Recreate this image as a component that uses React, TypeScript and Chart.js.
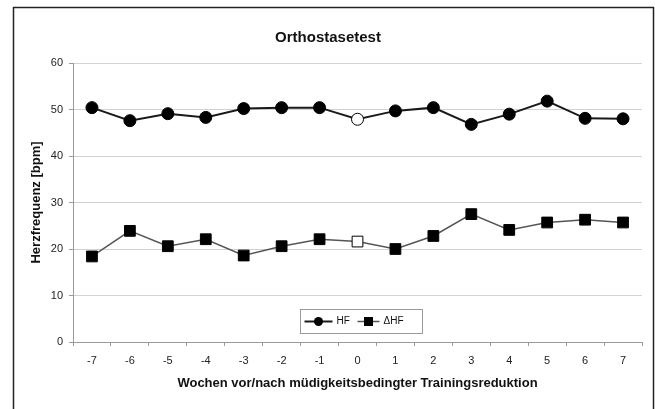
import React, { useEffect, useRef } from "react";
import { Chart, registerables } from "chart.js";

Chart.register(...registerables);

const weeks = ["-7", "-6", "-5", "-4", "-3", "-2", "-1", "0", "1", "2", "3", "4", "5", "6", "7"];
const hfValues = [50.4, 47.6, 49.1, 48.3, 50.2, 50.4, 50.4, 47.9, 49.7, 50.4, 46.8, 49.0, 51.8, 48.1, 48.0];
const dhfValues = [18.4, 23.9, 20.6, 22.1, 18.6, 20.6, 22.1, 21.6, 20.0, 22.8, 27.5, 24.1, 25.7, 26.3, 25.7];
const highlightIndex = 7;
const titleText = "Orthostasetest";
const xTitle = "Wochen vor/nach müdigkeitsbedingter Trainingsreduktion";
const yTitle = "Herzfrequenz [bpm]";
const seriesNames = ["HF", "ΔHF"];

const FONT = "'Liberation Sans', Arial, sans-serif";

const fills = (n: number) => weeks.map((_, i) => (i === n ? "#ffffff" : "#000000"));

const framePlugin = {
  id: "frame",
  beforeDraw(chart: any) {
    const ctx = chart.ctx;
    ctx.save();
    ctx.fillStyle = "#ffffff";
    ctx.fillRect(0, 0, chart.width, chart.height);
    ctx.strokeStyle = "#222222";
    ctx.lineWidth = 1.5;
    ctx.beginPath();
    ctx.moveTo(13.5, chart.height + 5);
    ctx.lineTo(13.5, 7.5);
    ctx.lineTo(653.5, 7.5);
    ctx.lineTo(653.5, chart.height + 5);
    ctx.stroke();
    ctx.restore();
  },
};

const legendPlugin = {
  id: "insideLegend",
  afterDraw(chart: any) {
    const ctx = chart.ctx;
    const area = chart.chartArea;
    const w = 122;
    const h = 24;
    const cx = (area.left + area.right) / 2 + 3;
    const x0 = Math.round(cx - w / 2) + 0.5;
    const y0 = Math.round(area.bottom - 9 - h) + 0.5;
    ctx.save();
    ctx.fillStyle = "#ffffff";
    ctx.fillRect(x0, y0, w, h);
    ctx.strokeStyle = "#9a9a9a";
    ctx.lineWidth = 1;
    ctx.strokeRect(x0, y0, w, h);
    const cy = y0 + h / 2;
    ctx.font = "10px " + FONT;
    ctx.textBaseline = "middle";
    ctx.textAlign = "left";
    const items = [
      { lx: x0 + 4, lw: 28, tx: x0 + 36 },
      { lx: x0 + 57, lw: 22, tx: x0 + 83 },
    ];
    chart.data.datasets.forEach((ds: any, i: number) => {
      const it = items[i];
      ctx.strokeStyle = ds.borderColor;
      ctx.lineWidth = ds.borderWidth;
      ctx.beginPath();
      ctx.moveTo(it.lx, cy);
      ctx.lineTo(it.lx + it.lw, cy);
      ctx.stroke();
      ctx.fillStyle = "#000000";
      const mx = it.lx + it.lw / 2;
      if (ds.pointStyle === "circle") {
        ctx.beginPath();
        ctx.arc(mx, cy, 4.5, 0, Math.PI * 2);
        ctx.fill();
      } else {
        ctx.fillRect(mx - 4.5, cy - 4.5, 9, 9);
      }
      ctx.fillStyle = "#111111";
      ctx.fillText(ds.label, it.tx, cy);
    });
    ctx.restore();
  },
};

export default function App() {
  const ref = useRef<HTMLCanvasElement | null>(null);
  useEffect(() => {
    document.body.style.margin = "0";
    const canvas = ref.current;
    if (!canvas) return;
    const chart = new Chart(canvas, {
      type: "line",
      data: {
        labels: weeks,
        datasets: [
          {
            label: seriesNames[0],
            data: hfValues,
            borderColor: "#1a1a1a",
            borderWidth: 2,
            pointStyle: "circle",
            pointRadius: 6,
            pointBackgroundColor: fills(highlightIndex),
            pointBorderColor: "#000000",
            pointBorderWidth: 1,
            tension: 0,
          },
          {
            label: seriesNames[1],
            data: dhfValues,
            borderColor: "#555555",
            borderWidth: 1.5,
            pointStyle: "rect",
            pointRadius: 7.6,
            pointBackgroundColor: fills(highlightIndex),
            pointBorderColor: "#000000",
            pointBorderWidth: 1,
            tension: 0,
          },
        ],
      },
      options: {
        responsive: false,
        animation: false,
        events: [],
        layout: { padding: { top: 0, left: 14, right: 13, bottom: 0 } },
        plugins: {
          legend: { display: false },
          tooltip: { enabled: false },
          title: {
            display: true,
            text: titleText,
            color: "#111111",
            font: { family: FONT, size: 15, weight: "bold", lineHeight: 1.2 },
            padding: { top: 29, bottom: 16 },
          },
        },
        scales: {
          x: {
            offset: true,
            grid: {
              offset: true,
              drawOnChartArea: false,
              drawTicks: true,
              tickLength: 4,
              color: "#9a9a9a",
            },
            border: { color: "#9a9a9a", width: 1 },
            ticks: {
              color: "#222222",
              font: { family: FONT, size: 11 },
              padding: 8,
              maxRotation: 0,
              autoSkip: false,
            },
            title: {
              display: true,
              text: xTitle,
              color: "#111111",
              font: { family: FONT, size: 13, weight: "bold", lineHeight: 1.2 },
              padding: { top: 4, bottom: 18 },
            },
            afterFit(scale: any) {
              scale.height = 67;
            },
          },
          y: {
            min: 0,
            max: 60,
            grid: {
              color: "#d2d2d2",
              lineWidth: 1,
              drawTicks: true,
              tickLength: 4,
              tickColor: "#9a9a9a",
            },
            border: { color: "#9a9a9a", width: 1 },
            ticks: {
              stepSize: 10,
              color: "#222222",
              font: { family: FONT, size: 11 },
              padding: 6,
            },
            title: {
              display: true,
              text: yTitle,
              color: "#111111",
              font: { family: FONT, size: 13, weight: "bold", lineHeight: 1.2 },
              padding: { top: 15, bottom: 4 },
            },
            afterFit(scale: any) {
              scale.width = 59;
            },
          },
        },
      },
      plugins: [framePlugin, legendPlugin],
    });
    return () => chart.destroy();
  }, []);
  return <canvas ref={ref} width={655} height={409} style={{ display: "block" }} />;
}
